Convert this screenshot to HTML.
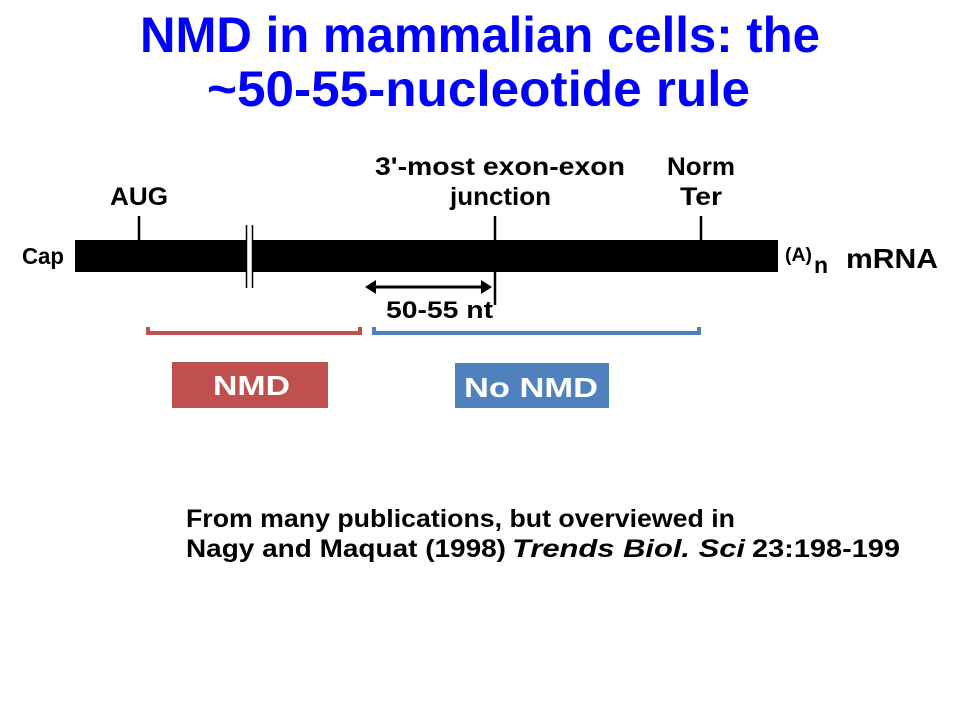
<!DOCTYPE html>
<html><head><meta charset="utf-8"><style>
html,body{margin:0;padding:0;background:#fff;}
svg{display:block;}
text{font-family:"Liberation Sans",sans-serif;font-weight:bold;}
</style></head><body>
<svg width="960" height="720" viewBox="0 0 960 720" xmlns="http://www.w3.org/2000/svg">
<rect width="960" height="720" fill="#fff"/>
<g fill="#0000ff" font-size="50">
<text x="140" y="52" textLength="680" lengthAdjust="spacingAndGlyphs">NMD in mammalian cells: the</text>
<text x="207" y="106" textLength="543" lengthAdjust="spacingAndGlyphs">~50-55-nucleotide rule</text>
</g>
<g fill="#000" font-size="25">
<text x="375" y="175" textLength="250" lengthAdjust="spacingAndGlyphs">3'-most exon-exon</text>
<text x="450" y="205" textLength="101" lengthAdjust="spacingAndGlyphs">junction</text>
<text x="667" y="175" textLength="68" lengthAdjust="spacingAndGlyphs">Norm</text>
<text x="680" y="205" textLength="42" lengthAdjust="spacingAndGlyphs">Ter</text>
<text x="110" y="205" textLength="58" lengthAdjust="spacingAndGlyphs">AUG</text>
<text x="22" y="264" font-size="23" textLength="42" lengthAdjust="spacingAndGlyphs">Cap</text>
<text x="785" y="261" font-size="19" textLength="27" lengthAdjust="spacingAndGlyphs">(A)</text>
<text x="814" y="273" font-size="23">n</text>
<text x="846" y="268" font-size="28" textLength="92" lengthAdjust="spacingAndGlyphs">mRNA</text>
<text x="386" y="318" font-size="24" font-weight="normal" textLength="107" lengthAdjust="spacingAndGlyphs">50-55 nt</text>
</g>
<rect x="75" y="240" width="703" height="32" fill="#000"/>
<g stroke="#000" stroke-width="2.5">
<line x1="139" y1="216" x2="139" y2="240"/>
<line x1="701" y1="216" x2="701" y2="240"/>
<line x1="495" y1="216" x2="495" y2="305"/>
</g>
<rect x="246" y="225" width="7" height="63" fill="#fff"/>
<line x1="246.5" y1="225" x2="246.5" y2="288" stroke="#000" stroke-width="1.5"/>
<line x1="252.5" y1="225" x2="252.5" y2="288" stroke="#000" stroke-width="1.5"/>
<line x1="372" y1="287" x2="485" y2="287" stroke="#000" stroke-width="3"/>
<polygon points="365,287 376,280 376,294" fill="#000"/>
<polygon points="492,287 481,280 481,294" fill="#000"/>
<path d="M148 327 V333 H360 V327" fill="none" stroke="#c0504d" stroke-width="4"/>
<path d="M374 327 V333 H699 V327" fill="none" stroke="#4f81bd" stroke-width="4"/>
<rect x="172" y="362" width="156" height="46" fill="#c0504d"/>
<rect x="455" y="363" width="154" height="45" fill="#4f81bd"/>
<g fill="#fff" font-size="28">
<text x="213" y="395" textLength="77" lengthAdjust="spacingAndGlyphs">NMD</text>
<text x="464" y="397" textLength="134" lengthAdjust="spacingAndGlyphs">No NMD</text>
</g>
<g fill="#000" font-size="25" style="font-family:'DejaVu Sans',sans-serif">
<text x="186" y="527" textLength="549" lengthAdjust="spacingAndGlyphs">From many publications, but overviewed in</text>
<text x="186" y="557" textLength="320" lengthAdjust="spacingAndGlyphs">Nagy and Maquat (1998)</text>
<text x="512" y="557" font-style="italic" textLength="233" lengthAdjust="spacingAndGlyphs">Trends Biol. Sci</text>
<text x="752" y="557" textLength="148" lengthAdjust="spacingAndGlyphs">23:198-199</text>
</g>
</svg>
</body></html>
